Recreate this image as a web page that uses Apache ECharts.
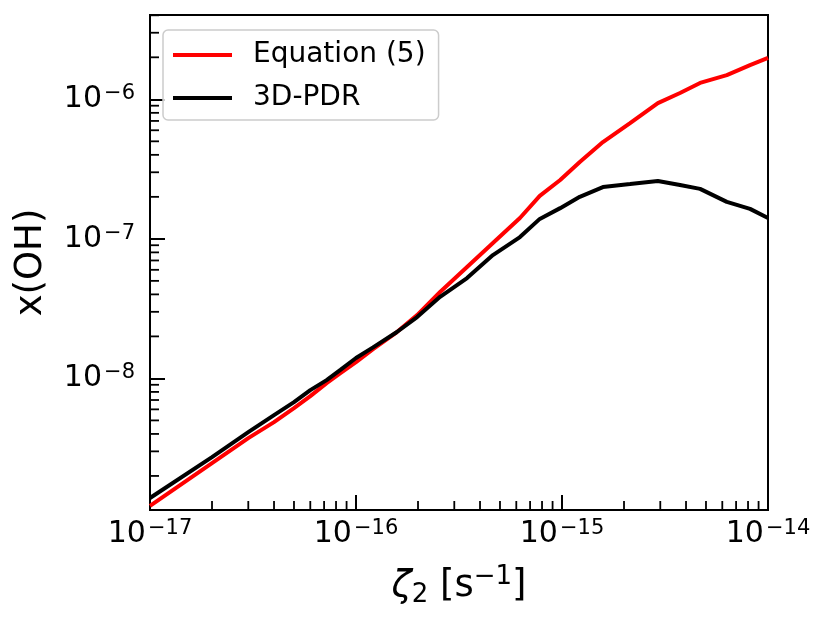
<!DOCTYPE html>
<html>
<head>
    <meta charset="UTF-8">
    <title>x(OH) vs zeta2</title>
    <script src="https://cdn.jsdelivr.net/npm/echarts@6/dist/echarts.min.js"></script>
    <style type="text/css">
        html, body, #main {
            height: 100%;
            width: 100%;
            margin: 0;
            padding: 0;
            background: #fff
        }
    </style>
</head>
<body>
<div id="main"></div>
<script type="text/javascript">
    // zeta_2 [s^-1], sampled along the curves
    var zeta = [1e-17, 2e-17, 3e-17, 4e-17, 5e-17, 6e-17, 7.2e-17, 8.4e-17, 1e-16, 1.21e-16,
        1.58e-16, 1.98e-16, 2.56e-16, 3.46e-16, 4.62e-16, 6.25e-16, 7.8e-16, 9.8e-16, 1.22e-15,
        1.58e-15, 2.14e-15, 2.92e-15, 3.74e-15, 4.68e-15, 6.31e-15, 8.18e-15, 1e-14];
    // x(OH), Equation (5)
    var eq5 = [1.22e-9, 2.47e-9, 3.73e-9, 4.86e-9, 6.12e-9, 7.46e-9, 9.25e-9, 1.09e-8, 1.31e-8, 1.62e-8,
        2.15e-8, 2.84e-8, 4.16e-8, 6.28e-8, 9.33e-8, 1.41e-7, 2.03e-7, 2.64e-7, 3.55e-7,
        4.94e-7, 6.76e-7, 9.4e-7, 1.11e-6, 1.31e-6, 1.49e-6, 1.76e-6, 1.98e-6];
    // x(OH), 3D-PDR
    var pdr = [1.39e-9, 2.73e-9, 4.12e-9, 5.46e-9, 6.76e-9, 8.24e-9, 9.72e-9, 1.15e-8, 1.40e-8, 1.67e-8,
        2.15e-8, 2.75e-8, 3.84e-8, 5.24e-8, 7.65e-8, 1.03e-7, 1.39e-7, 1.66e-7, 2.0e-7,
        2.35e-7, 2.47e-7, 2.60e-7, 2.43e-7, 2.28e-7, 1.84e-7, 1.64e-7, 1.41e-7];

    var xMin = 1e-17, xMax = 1e-14;
    var yMin = 1.14e-9, yMax = 4.02e-6;
    var minorSteps = [2, 3, 4, 5, 6, 7, 8, 9];
    var xDecades = [-17, -16, -15];
    var yDecades = [-9, -8, -7, -6];

    function minorValues(decades, lo, hi) {
        var out = [];
        decades.forEach(function (d) {
            minorSteps.forEach(function (m) {
                var v = m * Math.pow(10, d);
                if (v > lo && v < hi) out.push(v);
            });
        });
        return out;
    }
    var xMinor = minorValues(xDecades, xMin, xMax);
    var yMinor = minorValues(yDecades, yMin, yMax);

    function pairs(xs, ys) {
        return xs.map(function (x, i) { return [x, ys[i]]; });
    }

    // short inward minor ticks drawn through the axes' own scales
    function minorTick(dim) {
        return function (params, api) {
            var cs = params.coordSys;
            var p = api.coord([api.value(0), api.value(1)]);
            var shape = dim === 'x'
                ? {x1: p[0], y1: cs.y + cs.height, x2: p[0], y2: cs.y + cs.height - 9}
                : {x1: cs.x, y1: p[1], x2: cs.x + 9, y2: p[1]};
            return {type: 'line', shape: shape, style: {stroke: '#000', lineWidth: 1.8}};
        };
    }

    function powLabel(v) {
        var e = Math.round(Math.log10(v));
        return '{b|10}{s|\u2212' + Math.abs(e) + '}';
    }
    var tickRich = {
        b: {fontSize: 30, lineHeight: 32, color: '#000', fontFamily: 'DejaVu Sans'},
        s: {fontSize: 21, lineHeight: 15, verticalAlign: 'top', padding: [0, 0, 0, 2], color: '#000', fontFamily: 'DejaVu Sans'}
    };

    var chart = echarts.init(document.getElementById('main'));
    var option = {
        animation: false,
        backgroundColor: '#fff',
        textStyle: {fontFamily: 'DejaVu Sans'},
        grid: {
            left: 150, right: 62, top: 15, bottom: 114,
            containLabel: false,
            show: true, borderColor: '#000', borderWidth: 2
        },
        legend: {
            orient: 'vertical',
            left: 163, top: 30,
            data: ['Equation (5)', '3D-PDR'],
            icon: 'rect',
            itemWidth: 59, itemHeight: 4,
            itemGap: 13,
            padding: [10, 13, 7, 10],
            backgroundColor: 'rgba(255,255,255,0.8)',
            borderColor: '#cccccc', borderWidth: 1.5, borderRadius: 5,
            textStyle: {fontSize: 28, lineHeight: 30, color: '#000', padding: [0, 0, 0, 16], fontFamily: 'DejaVu Sans'}
        },
        xAxis: {
            type: 'log', logBase: 10,
            min: xMin, max: xMax,
            name: '{z|\u03b6}{sub|2}{n| [s}{sup|\u22121}{n|]}',
            nameLocation: 'middle', nameGap: 54,
            nameTextStyle: {
                rich: {
                    z: {fontSize: 37, fontStyle: 'italic', lineHeight: 44, color: '#000', fontFamily: 'DejaVu Sans'},
                    n: {fontSize: 37, lineHeight: 44, color: '#000', fontFamily: 'DejaVu Sans'},
                    sub: {fontSize: 26, lineHeight: 30, verticalAlign: 'bottom', color: '#000', fontFamily: 'DejaVu Sans'},
                    sup: {fontSize: 26, lineHeight: 26, verticalAlign: 'top', color: '#000', fontFamily: 'DejaVu Sans'}
                }
            },
            axisLine: {lineStyle: {color: '#000', width: 2}},
            axisTick: {inside: true, length: 15, lineStyle: {color: '#000', width: 2}},
            axisLabel: {margin: 8, formatter: powLabel, rich: tickRich},
            splitLine: {show: false}
        },
        yAxis: {
            type: 'log', logBase: 10,
            min: yMin, max: yMax,
            name: 'x(OH)',
            nameLocation: 'middle', nameGap: 100,
            nameTextStyle: {fontSize: 37, color: '#000', fontFamily: 'DejaVu Sans'},
            axisLine: {lineStyle: {color: '#000', width: 2}},
            axisTick: {inside: true, length: 15, lineStyle: {color: '#000', width: 2}},
            axisLabel: {margin: 15, formatter: powLabel, rich: tickRich, showMinLabel: false, showMaxLabel: false},
            splitLine: {show: false}
        },
        series: [{
            name: 'Equation (5)',
            type: 'line',
            data: pairs(zeta, eq5),
            showSymbol: false,
            symbol: 'none',
            lineStyle: {color: '#ff0000', width: 4},
            itemStyle: {color: '#ff0000'}
        }, {
            name: '3D-PDR',
            type: 'line',
            data: pairs(zeta, pdr),
            showSymbol: false,
            symbol: 'none',
            lineStyle: {color: '#000000', width: 4},
            itemStyle: {color: '#000000'}
        }, {
            type: 'custom',
            silent: true,
            clip: false,
            renderItem: minorTick('x'),
            data: xMinor.map(function (v) { return [v, yMin]; })
        }, {
            type: 'custom',
            silent: true,
            clip: false,
            renderItem: minorTick('y'),
            data: yMinor.map(function (v) { return [xMin, v]; })
        }]
    };
    chart.setOption(option);
</script>
</body>
</html>
